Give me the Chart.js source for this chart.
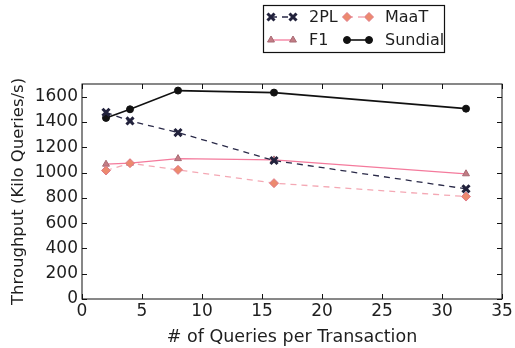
<!DOCTYPE html>
<html>
<head>
<meta charset="utf-8">
<script src="https://cdn.jsdelivr.net/npm/chart.js@4"></script>
<style>
  html, body { margin: 0; padding: 0; background: #fff; }
  #wrap { width: 515px; height: 348px; position: relative; }
</style>
</head>
<body>
<div id="wrap"><canvas id="myChart" width="515" height="348"></canvas></div>
<script>
// data
const queries = [2, 4, 8, 16, 32];
const twoPL = [1476, 1408, 1316, 1095, 871];
const maat = [1016, 1074, 1021, 916, 810];
const f1 = [1066, 1074, 1110, 1100, 990];
const sundial = [1432, 1500, 1648, 1632, 1505];
const xTicks = [0, 5, 10, 15, 20, 25, 30, 35];
const yTicks = [0, 200, 400, 600, 800, 1000, 1200, 1400, 1600];

const FONT = "'DejaVu Sans', sans-serif";
const TEXT = '#1e1e1e';

function pts(ys) {
    return queries.map((x, i) => ({ x: x, y: ys[i] }));
}

// frame + inward ticks like matplotlib
const frame = {
    id: 'frame',
    afterDraw(chart) {
        const c = chart.ctx, a = chart.chartArea;
        const xs = chart.scales.x, ys = chart.scales.y;
        c.save();
        c.strokeStyle = '#111';
        c.lineWidth = 1;
        c.strokeRect(a.left, a.top, a.right - a.left, a.bottom - a.top);
        c.beginPath();
        for (const t of xTicks) {
            const p = Math.round(xs.getPixelForValue(t)) + 0.5;
            c.moveTo(p, a.bottom); c.lineTo(p, a.bottom - 5);
            c.moveTo(p, a.top); c.lineTo(p, a.top + 5);
        }
        for (const t of yTicks) {
            const p = Math.round(ys.getPixelForValue(t)) + 0.5;
            c.moveTo(a.left, p); c.lineTo(a.left + 5, p);
            c.moveTo(a.right, p); c.lineTo(a.right - 5, p);
        }
        c.stroke();
        c.restore();
    }
};

// two-column legend with two markers per handle
const legendBox = {
    id: 'legendBox',
    afterDraw(chart) {
        const c = chart.ctx;
        const bx = 263, by = 5, bw = 181, bh = 47;
        c.save();
        c.fillStyle = '#fff';
        c.fillRect(bx, by, bw, bh);
        c.strokeStyle = '#111';
        c.lineWidth = 1.2;
        c.strokeRect(bx + 0.5, by + 0.5, bw, bh);
        const cols = [271, 347];
        const rows = [by + 12, by + 35];
        chart.data.datasets.forEach((ds, k) => {
            const x0 = cols[k % 2], y0 = rows[Math.floor(k / 2)];
            c.beginPath();
            c.strokeStyle = ds.borderColor;
            c.lineWidth = ds.borderWidth;
            c.setLineDash(ds.borderDash || []);
            c.moveTo(x0, y0); c.lineTo(x0 + 22, y0);
            c.stroke();
            c.setLineDash([]);
            for (const px of [x0, x0 + 22]) {
                c.fillStyle = ds.pointBackgroundColor;
                c.strokeStyle = ds.pointBorderColor;
                c.lineWidth = ds.pointBorderWidth;
                Chart.helpers.drawPoint(c, {
                    pointStyle: ds.pointStyle,
                    radius: ds.pointRadius,
                    rotation: 0,
                    borderWidth: ds.pointBorderWidth
                }, px, y0);
            }
            c.fillStyle = TEXT;
            c.font = '16px ' + FONT;
            c.textBaseline = 'middle';
            c.fillText(ds.label, x0 + 38, y0 + 1);
        });
        c.restore();
    }
};

new Chart(document.getElementById('myChart').getContext('2d'), {
    type: 'line',
    data: {
        datasets: [
            {
                label: '2PL', data: pts(twoPL),
                borderColor: '#2a2a48', borderWidth: 1.3, borderDash: [6, 5],
                pointStyle: 'crossRot', pointRadius: 5, pointBorderWidth: 3,
                pointBorderColor: '#22223c', pointBackgroundColor: '#22223c'
            },
            {
                label: 'MaaT', data: pts(maat),
                borderColor: '#f4a8b4', borderWidth: 1.3, borderDash: [6, 5],
                pointStyle: 'rectRot', pointRadius: 4.5, pointBorderWidth: 1,
                pointBorderColor: '#e07a88', pointBackgroundColor: '#ec8a6e'
            },
            {
                label: 'F1', data: pts(f1),
                borderColor: '#f47a9c', borderWidth: 1.3,
                pointStyle: 'triangle', pointRadius: 4, pointBorderWidth: 1,
                pointBorderColor: '#a86a74', pointBackgroundColor: '#c27c84'
            },
            {
                label: 'Sundial', data: pts(sundial),
                borderColor: '#111', borderWidth: 1.6,
                pointStyle: 'circle', pointRadius: 3.5, pointBorderWidth: 1,
                pointBorderColor: '#111', pointBackgroundColor: '#111'
            }
        ]
    },
    options: {
        responsive: false,
        animation: false,
        layout: { padding: { left: 9, right: 13, top: 84, bottom: 0 } },
        plugins: { legend: { display: false }, tooltip: { enabled: false } },
        scales: {
            x: {
                type: 'linear', min: 0, max: 35,
                afterBuildTicks(s) { s.ticks = xTicks.map(v => ({ value: v })); },
                afterFit(s) { s.height = 49; },
                grid: { display: false, drawTicks: false },
                border: { display: false },
                ticks: { color: TEXT, font: { family: FONT, size: 17 }, padding: 2, maxRotation: 0 },
                title: { display: true, text: '# of Queries per Transaction', color: TEXT,
                         font: { family: FONT, size: 17.5 }, padding: { top: 1, bottom: 0 } }
            },
            y: {
                min: 0, max: 1700,
                afterBuildTicks(s) { s.ticks = yTicks.map(v => ({ value: v })); },
                afterFit(s) { s.width = 73; },
                grid: { display: false, drawTicks: false },
                border: { display: false },
                ticks: { color: TEXT, font: { family: FONT, size: 17 }, padding: 4,
                         callback: v => String(v) },
                title: { display: true, text: 'Throughput (Kilo Queries/s)', color: TEXT,
                         font: { family: FONT, size: 16.5 }, padding: { top: 0, bottom: 0 } }
            }
        }
    },
    plugins: [frame, legendBox]
});
</script>
</body>
</html>
